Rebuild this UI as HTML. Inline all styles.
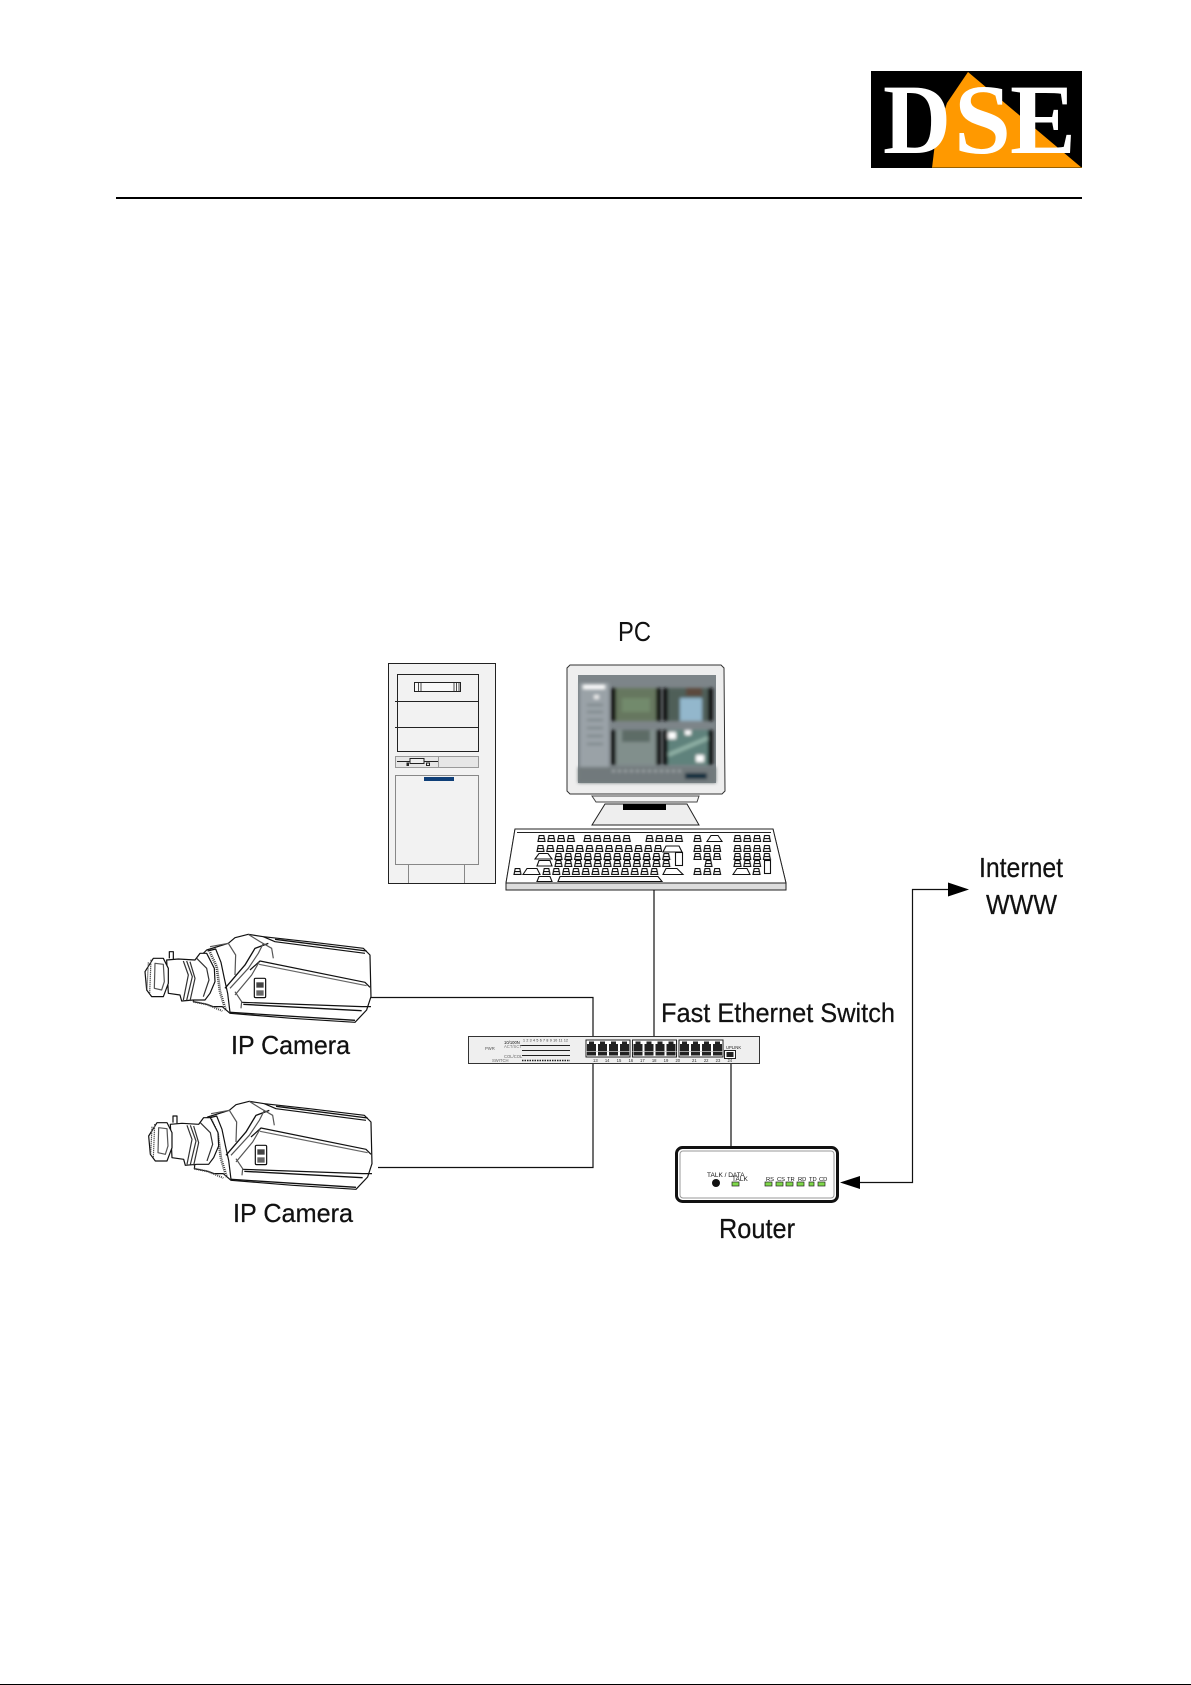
<!DOCTYPE html>
<html><head><meta charset="utf-8"><title>IP Camera network diagram</title>
<style>html,body{margin:0;padding:0;background:#fff}svg{display:block}text{font-family:"Liberation Sans",sans-serif;fill:#111}.l{stroke:#111;stroke-width:.25}</style>
</head><body>
<svg xmlns="http://www.w3.org/2000/svg" width="1191" height="1685" viewBox="0 0 1191 1685">
<defs>
<pattern id="kp" patternUnits="userSpaceOnUse" width="9.8" height="7">
<path d="M1 6.5 L2.2 .6 H6.8 L8 6.5 Z M1.6 3.6 H7.5" fill="#fff" stroke="#111" stroke-width="1.15"/>
</pattern>
<filter id="b1" x="-5%" y="-5%" width="110%" height="110%"><feGaussianBlur stdDeviation="1.5"/></filter>
<g id="port">
<path d="M2.5 1H7.5V3.5H9.5V15H.5V3.5H2.5Z" transform="translate(.5,.5)" fill="#222"/>
</g>
<g id="ports">
<rect width="44" height="17" fill="#fff" stroke="#222" stroke-width="1"/>
<use href="#port"/><use href="#port" x="11"/><use href="#port" x="22"/><use href="#port" x="33"/>
<path d="M0 11.5H44" stroke="#ccc" stroke-width=".8"/>
</g>
<g id="body" fill="none" stroke="#111" stroke-width="3.6" stroke-linejoin="round">
<path fill="#fff" d="M215,75 L280,55 L300,38 L340,28 L385,35 L520,50 L685,70 L705,90 L708,215 L695,255 L660,292 L470,280 L285,265 L262,245 L235,245 L215,238 L175,230 L190,100 Z"/>
<path d="M385,35 L420,50 L690,85"/><path d="M420,43 L695,78" stroke-width="4"/>
<path d="M345,135 L375,108 L690,172 L705,187"/><path d="M372,118 L695,182" stroke="#666"/>
<path d="M320,232 L680,245 L708,245"/><path d="M325,238 L680,257" stroke-width="4"/><path d="M285,262 L660,286" stroke-width="4"/>
<path d="M270,190 L330,120 L360,70 L400,55" stroke-width="4"/><path d="M285,190 L340,130 L370,85 L385,55" stroke="#555"/>
<path d="M300,210 L350,150 L372,112" stroke="#555"/>
<path d="M340,28 L375,50 L410,70 L415,100" stroke="#555"/>
<path d="M225,65 L280,55 L302,90 L300,150" stroke="#555"/>
<path d="M300,200 L320,230 L318,250" stroke="#555"/>
<path d="M218,78 L242,72 L258,112 L268,160 L278,205 L285,262" />
<path d="M225,82 L245,125 L255,200 L272,255" stroke-dasharray="3 3" stroke-width="8" stroke="#333"/>
<path d="M175,230 L215,238 L262,258" stroke-dasharray="3 3" stroke-width="6" stroke="#444"/>
<rect x="358" y="160" width="34" height="58" fill="#fff" rx="4"/>
<rect x="364" y="172" width="22" height="16" fill="#444" stroke="none"/>
<rect x="364" y="196" width="22" height="16" fill="#666" stroke="none"/>
</g>
<g id="lens" fill="none" stroke="#111" stroke-width="3.6" stroke-linejoin="round">
<path fill="#fff" d="M95,105 L130,102 L180,105 L195,85 L215,85 L238,130 L240,170 L225,205 L210,225 L175,225 L140,228 L135,210 L100,205 Z"/>
<path d="M103,100 V80 H115 V102"/>
<path fill="#fff" d="M55,100 L85,100 L100,130 L100,175 L85,215 L50,215 L35,195 L30,140 Z"/>
<path d="M40,112 L36,195 M48,104 L44,205" stroke="#555" stroke-dasharray="4 2"/>
<path d="M60,115 L85,118 L88,170 L80,195 L58,190 Z" stroke="#555"/>
<path d="M145,108 L160,150 L145,225 M165,110 L180,160 L165,228 M155,108 L172,155 L155,226" stroke="#333"/>
<path d="M185,100 L215,130 L222,165 L205,215" stroke="#333"/>
</g>
</defs>

<!-- header -->
<rect x="871" y="71" width="211" height="97" fill="#000"/>
<polygon points="968,72 1082,168 932,168 936,135 947,103" fill="#f90"/>
<rect x="932" y="167" width="150" height="1" fill="#9a6100"/>
<g font-size="100" font-weight="bold">
<text x="883" y="153" textLength="68" lengthAdjust="spacingAndGlyphs" style="font-family:'Liberation Serif',serif;fill:#fff">D</text>
<text x="954" y="153" textLength="57" lengthAdjust="spacingAndGlyphs" style="font-family:'Liberation Serif',serif;fill:#fff">S</text>
<text x="1010" y="153" textLength="66" lengthAdjust="spacingAndGlyphs" style="font-family:'Liberation Serif',serif;fill:#fff">E</text>
</g>
<rect x="116" y="197" width="966" height="2" fill="#000"/>
<rect x="0" y="1684" width="1191" height="1" fill="#000"/>

<!-- tower -->
<g fill="none" stroke="#222">
<rect x="388.5" y="663.5" width="107" height="220" fill="#f2f2f2"/>
<rect x="397.5" y="674.5" width="81" height="77" fill="#f2f2f2"/>
<path d="M395 701.5H478M395 727.5H478"/>
<rect x="414.5" y="682.5" width="46" height="9" fill="#f8f8f8"/>
<path d="M418.5 682v9M421 682v9M454 682v9M456.5 682v9M459 682v9" stroke-width=".8"/>
<rect x="395.5" y="756.5" width="83" height="11" fill="#e6e6e6" stroke="#999"/>
<path d="M438.5 756v11" stroke="#999"/>
<path d="M397 761.5H438" stroke-width="1"/>
<rect x="410" y="758.5" width="14" height="5" fill="#eee"/>
<rect x="426.5" y="763" width="3" height="2.5"/><rect x="407" y="763" width="1.5" height="2.5" fill="#222"/>
<rect x="395.5" y="775.5" width="83" height="89" fill="#f2f2f2" stroke="#888"/>
<path d="M408.5 864v19M464.5 864v19" stroke="#888"/>
</g>
<rect x="424" y="777" width="30" height="4" fill="#0f3f78"/>

<!-- monitor -->
<path d="M570 665H721L724 668 L725 791 L722 794 H570 L567 791 V668 Z" fill="#eee" stroke="#333" stroke-width="1"/>
<path d="M592 796H699L697 802H596Z" fill="#f4f4f4" stroke="#444"/>
<path d="M605 804H687L699 825H592Z" fill="#eee" stroke="#222"/>
<rect x="623" y="804" width="43" height="6" fill="#000"/>
<g>
<rect x="578" y="675" width="138" height="108" fill="#7d8589"/>
<g filter="url(#b1)">
<rect x="580" y="683" width="29" height="84" fill="#9aa2a7"/>
<rect x="583" y="685" width="22" height="4" fill="#fff"/>
<rect x="594" y="695" width="5" height="4" fill="#eee"/>
<path d="M587 705h16M587 712h16M587 720h16M587 728h16M587 736h16M587 744h16" stroke="#6f787c" stroke-width="1.5"/>
<rect x="611" y="688" width="50" height="33" fill="#66775f"/>
<rect x="622" y="698" width="28" height="14" fill="#728a6c"/>
<rect x="663" y="688" width="50" height="33" fill="#4f5e58"/>
<rect x="680" y="698" width="22" height="23" fill="#93b7cc"/>
<rect x="686" y="688" width="16" height="8" fill="#5b4a3c"/>
<rect x="611" y="730" width="50" height="35" fill="#818f8c"/>
<rect x="622" y="730" width="28" height="12" fill="#5d6c66"/>
<rect x="663" y="730" width="50" height="35" fill="#5f827b"/>
<rect x="668" y="732" width="8" height="7" fill="#fff"/>
<rect x="685" y="730" width="6" height="5" fill="#fff"/>
<rect x="696" y="755" width="8" height="7" fill="#fff"/>
<path d="M668 755L708 738" stroke="#8fb0a5" stroke-width="4"/>
<rect x="611" y="688" width="5" height="33" fill="#111"/><rect x="656" y="688" width="5" height="33" fill="#111"/>
<rect x="663" y="688" width="5" height="33" fill="#111"/><rect x="708" y="688" width="5" height="33" fill="#111"/>
<rect x="611" y="730" width="5" height="35" fill="#111"/><rect x="656" y="730" width="5" height="35" fill="#111"/>
<rect x="663" y="730" width="5" height="35" fill="#111"/><rect x="708" y="730" width="5" height="35" fill="#111"/>
<rect x="578" y="767" width="138" height="16" fill="#71797c"/>
<rect x="685" y="773" width="22" height="6" fill="#102f3c"/>
<path d="M612 771h70" stroke="#a9b0b3" stroke-width="2" stroke-dasharray="3 3"/>
</g>
</g>

<!-- keyboard -->
<path d="M515 829H773L786 883V890H506V883Z" fill="#ddd" stroke="#222"/>
<path d="M515 829H773L786 883H506Z" fill="#fff" stroke="#222"/>
<path d="M517 832.5H771" stroke="#222"/>
<g fill="url(#kp)">
<rect transform="translate(537,835)" width="39" height="7"/>
<rect transform="translate(583,835)" width="49" height="7"/>
<rect transform="translate(645,835)" width="39" height="7"/>
<rect transform="translate(693,835)" width="9.8" height="7"/>
<rect transform="translate(733,835)" width="39" height="7"/>
<rect transform="translate(536,845)" width="127" height="7"/>
<rect transform="translate(693,845)" width="29.4" height="7"/>
<rect transform="translate(733,845)" width="39" height="7"/>
<rect transform="translate(554,853)" width="118" height="7"/>
<rect transform="translate(693,853)" width="29.4" height="7"/>
<rect transform="translate(733,853)" width="39" height="7"/>
<rect transform="translate(554,860)" width="118" height="7"/>
<rect transform="translate(704,860)" width="9.8" height="7"/>
<rect transform="translate(733,860)" width="29.4" height="7"/>
<rect transform="translate(513,868)" width="9.8" height="7"/>
<rect transform="translate(542,868)" width="118" height="7"/>
<rect transform="translate(693,868)" width="29.4" height="7"/>
<rect transform="translate(752,868)" width="9.8" height="7"/>
</g>
<g fill="#fff" stroke="#111" stroke-width="1.1">
<path d="M707 841.5L711 835.5H718L722 841.5Z"/>
<path d="M663 852L666 846H679L682 852Z"/>
<path d="M535 859L539 853.5H548L552 859Z"/>
<path d="M537 866L539 860.5H550L552 866Z"/>
<path d="M523 874.5L527 868.5H537L540 874.5Z"/>
<path d="M663 874.5L666 868.5H677L683 874.5Z"/>
<path d="M733 874.5L737 868.5H747L750 874.5Z"/>
<path d="M537 881.5L539 876.5H550L552 881.5Z"/>
<path d="M558 881.5L560 876.5H658L662 881.5Z"/>
<rect x="675.5" y="852.5" width="7" height="13"/>
<rect x="764.5" y="860.5" width="6" height="13"/>
</g>

<!-- connectors -->
<g fill="none" stroke="#111" stroke-width="1.2">
<path d="M654 890V1036"/>
<path d="M369 997.5H593V1036"/>
<path d="M378 1167.5H593V1063"/>
<path d="M731 1057V1146"/>
<path d="M860 1182.5H912.5V889.5H950"/>
</g>
<polygon points="969,889.5 948,882.5 948,896.5" fill="#000"/>
<polygon points="840,1182.5 860,1176 860,1189" fill="#000"/>

<!-- switch -->
<rect x="468.5" y="1036.5" width="291" height="27" fill="#efefef" stroke="#333"/>
<use href="#ports" x="586" y="1040"/>
<use href="#ports" x="632.5" y="1040"/>
<use href="#ports" x="679" y="1040"/>
<rect x="724.5" y="1050.5" width="11" height="8" fill="#fff" stroke="#222"/>
<rect x="726.5" y="1052" width="7" height="5" fill="#222"/>
<path d="M520 1045.5H570M522 1050.5H570M522 1055.5H570" stroke="#222" stroke-width="1"/>
<path d="M522 1060.5H570" stroke="#222" stroke-width="1.5" stroke-dasharray="1.5 1"/>
<g font-size="4.2">
<text x="485" y="1050" style="fill:#555">PWR</text>
<text x="504" y="1044" style="fill:#111">10/100N</text>
<text x="504" y="1048" style="fill:#777">ACT/SCT</text>
<text x="504" y="1058" style="fill:#666">COL/COL</text>
<text x="492" y="1062" style="fill:#666">SWITCH</text>
<text x="726" y="1049" style="fill:#222">UPLINK</text>
<text x="593" y="1062" style="fill:#333" word-spacing="6">13 14 15 16</text>
<text x="640" y="1062" style="fill:#333" word-spacing="6">17 18 19 20</text>
<text x="692" y="1062" style="fill:#333" word-spacing="6">21 22 23 24</text>
<text x="523" y="1041.5" font-size="3.6" style="fill:#333" textLength="45">1 2 3 4 5 6 7 8 9 10 11 12</text>
</g>

<!-- router -->
<rect x="676.5" y="1147.5" width="161" height="54" rx="6" fill="#fff" stroke="#111" stroke-width="3"/>
<rect x="680" y="1151" width="154" height="47" rx="3" fill="none" stroke="#999" stroke-width="1"/>
<circle cx="716" cy="1183" r="4" fill="#111"/>
<g fill="#7fd84a" stroke="#222" stroke-width=".7">
<rect x="732" y="1182" width="7" height="4"/>
<rect x="765" y="1182" width="7" height="4"/><rect x="776" y="1182" width="7" height="4"/><rect x="786" y="1182" width="7" height="4"/><rect x="797" y="1182" width="7" height="4"/><rect x="809" y="1182" width="5" height="4"/><rect x="818" y="1182" width="7" height="4"/>
</g>
<g font-size="5.8">
<text x="707" y="1177" font-size="6.5">TALK / DATA</text>
<text x="732" y="1181" font-size="6.5">TALK</text>
<text x="766" y="1181">RS</text><text x="777" y="1181">CS</text><text x="787" y="1181">TR</text><text x="798" y="1181">RD</text><text x="809" y="1181">TD</text><text x="819" y="1181">CD</text>
</g>

<!-- cameras -->
<g transform="translate(135,925) scale(.3333)"><use href="#body"/><use href="#lens"/></g>
<g transform="translate(136,1092) scale(.3333)"><use href="#body"/><use href="#lens" x="8" y="-8"/></g>

<!-- labels -->
<text x="618" y="641" font-size="28" textLength="33" lengthAdjust="spacingAndGlyphs">PC</text>
<text class="l" x="979" y="877" font-size="28" textLength="84" lengthAdjust="spacingAndGlyphs">Internet</text>
<text class="l" x="986" y="914" font-size="28" textLength="71" lengthAdjust="spacingAndGlyphs">WWW</text>
<text class="l" x="661" y="1022" font-size="27" textLength="234" lengthAdjust="spacingAndGlyphs">Fast Ethernet Switch</text>
<text class="l" x="231" y="1054" font-size="26" textLength="119" lengthAdjust="spacingAndGlyphs">IP Camera</text>
<text class="l" x="233" y="1222" font-size="26" textLength="120" lengthAdjust="spacingAndGlyphs">IP Camera</text>
<text class="l" x="719" y="1238" font-size="28" textLength="76" lengthAdjust="spacingAndGlyphs">Router</text>
</svg>
</body></html>
